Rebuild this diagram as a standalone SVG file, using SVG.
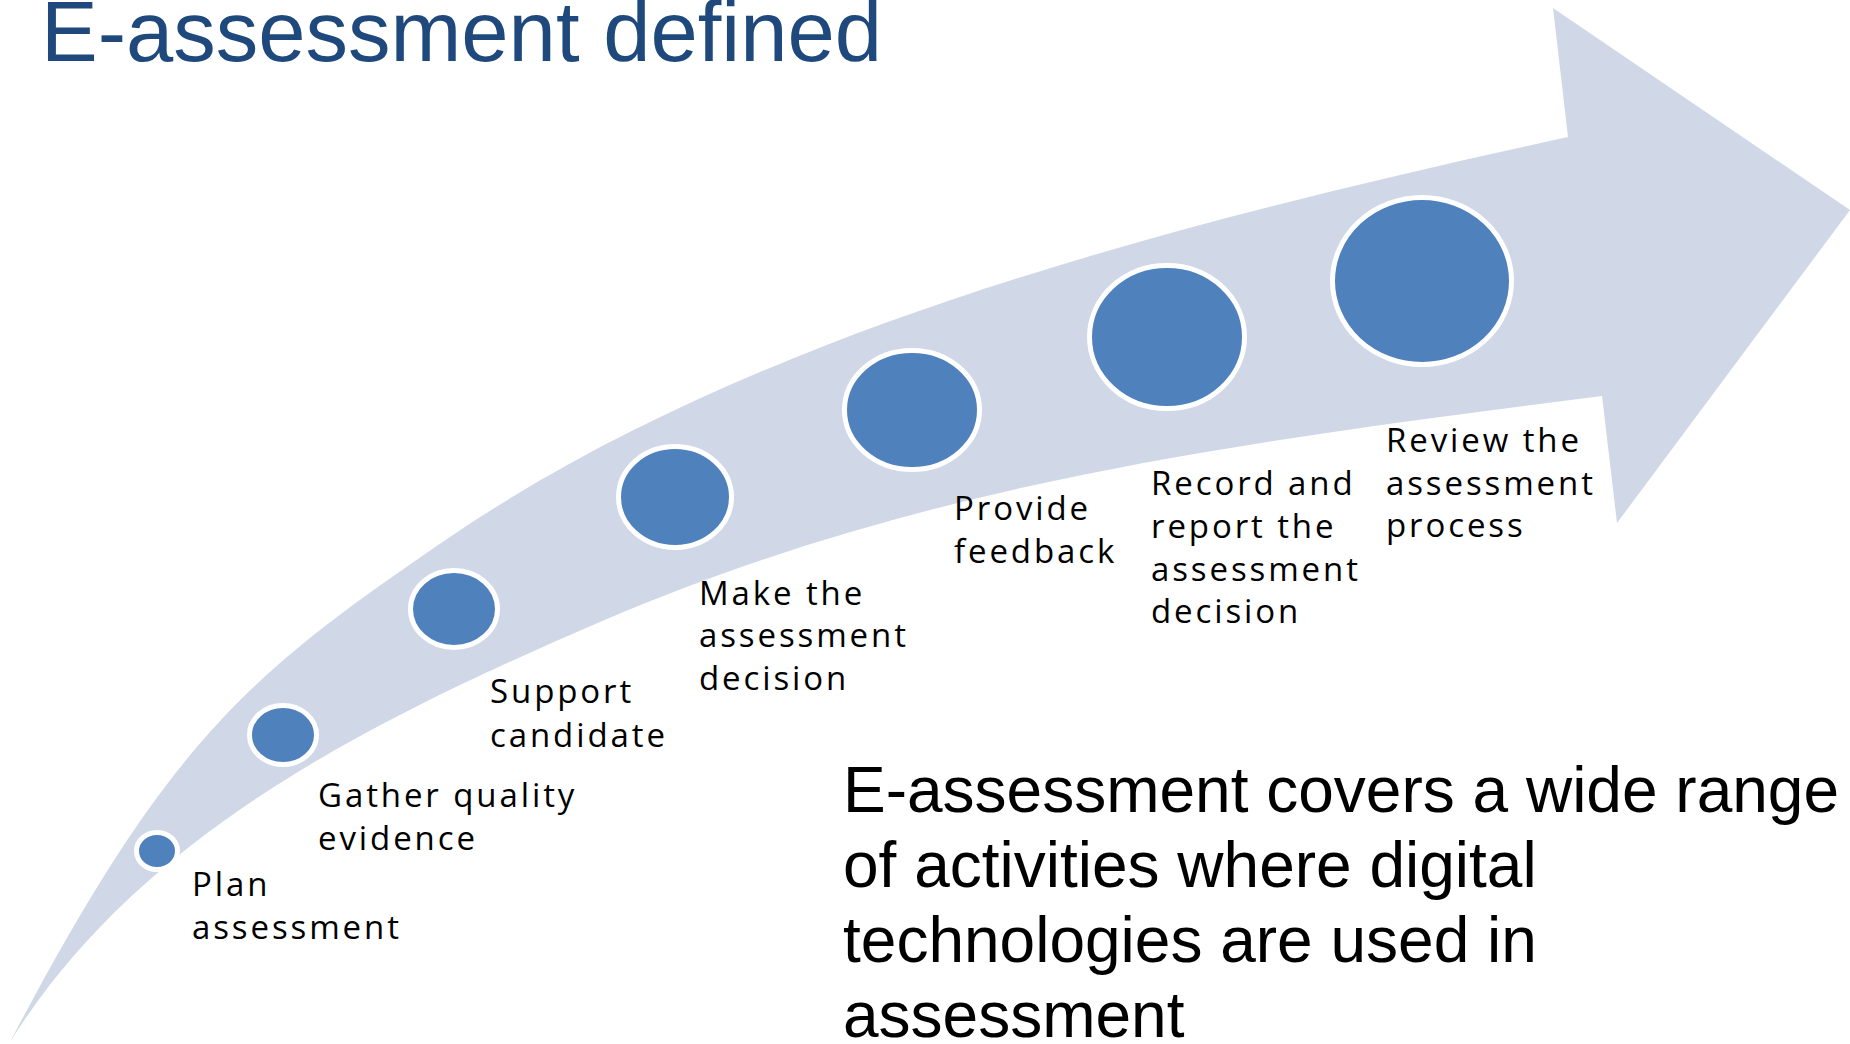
<svg xmlns="http://www.w3.org/2000/svg" width="1850" height="1044" viewBox="0 0 1850 1044">
<style>
.step{fill:#4f81bd;stroke:#ffffff;stroke-width:5}
.lbl{font-family:"Open Sans","Noto Sans","DejaVu Sans",sans-serif;font-size:33px;letter-spacing:2.9px;fill:#000000}
.title{font-family:"Liberation Sans",Arial,sans-serif;font-size:85px;fill:#1f497d}
.body{font-family:"Liberation Sans",Arial,sans-serif;font-size:64px;fill:#000000}
</style>
<rect x="0" y="0" width="1850" height="1044" fill="#ffffff"/>
<text class="title" x="41" y="61">E-assessment defined</text>
<g id="connectors">
<path id="arrow" fill="#d0d8e8" d="M 10,1042 C 170,738 250,673 450,537 C 750,333 1168,224 1568,137 L 1553,8 L 1850,210 L 1617,523 L 1602,396 C 1252,441 930,480 600,622 C 370,721 140,834 10,1042 Z"/>
</g>
<g id="node-plan">
<ellipse class="step" cx="157" cy="851" rx="20.5" ry="18.5"/>
<text class="lbl"><tspan x="192" y="896">Plan</tspan><tspan x="192" y="939">assessment</tspan></text>
</g>
<g id="node-gather">
<ellipse class="step" cx="283" cy="735" rx="33.5" ry="29.5"/>
<text class="lbl"><tspan x="318" y="807">Gather quality</tspan><tspan x="318" y="850">evidence</tspan></text>
</g>
<g id="node-support">
<ellipse class="step" cx="454" cy="609" rx="43.5" ry="38.5"/>
<text class="lbl"><tspan x="490" y="703">Support</tspan><tspan x="490" y="747">candidate</tspan></text>
</g>
<g id="node-decision">
<ellipse class="step" cx="675" cy="497" rx="56.5" ry="50.5"/>
<text class="lbl"><tspan x="699" y="605">Make the</tspan><tspan x="699" y="647">assessment</tspan><tspan x="699" y="690">decision</tspan></text>
</g>
<g id="node-feedback">
<ellipse class="step" cx="912" cy="410" rx="67.5" ry="59.5"/>
<text class="lbl"><tspan x="954" y="520">Provide</tspan><tspan x="954" y="563">feedback</tspan></text>
</g>
<g id="node-record">
<ellipse class="step" cx="1167" cy="337" rx="77.5" ry="71.5"/>
<text class="lbl"><tspan x="1151" y="495">Record and</tspan><tspan x="1151" y="538">report the</tspan><tspan x="1151" y="581">assessment</tspan><tspan x="1151" y="623">decision</tspan></text>
</g>
<g id="node-review">
<ellipse class="step" cx="1422" cy="281" rx="89.5" ry="83.5"/>
<text class="lbl"><tspan x="1386" y="452">Review the</tspan><tspan x="1386" y="495">assessment</tspan><tspan x="1386" y="537">process</tspan></text>
</g>
<text class="body"><tspan x="843" y="812">E-assessment covers a wide range</tspan><tspan x="843" y="887">of activities where digital</tspan><tspan x="843" y="962">technologies are used in</tspan><tspan x="843" y="1037">assessment</tspan></text>
</svg>
